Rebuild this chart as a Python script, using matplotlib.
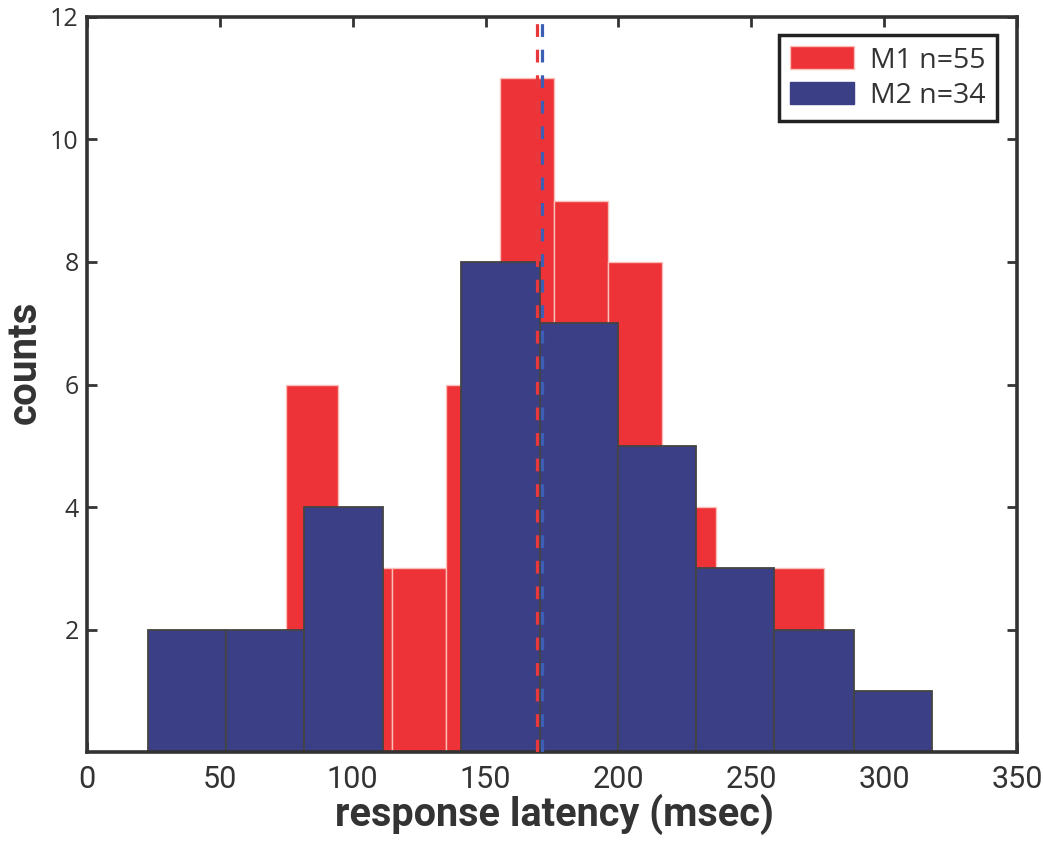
import numpy as np
import matplotlib.pyplot as plt
from matplotlib.patches import Patch

# bin edges (msec) and counts
m1_edges = [74.9, 94.5, 114.8, 135.1, 155.4, 175.8, 196.1, 216.4, 236.7, 257.1, 277.4]
m1_counts = [6, 3, 3, 6, 11, 9, 8, 4, 2, 3]
m2_edges = [22.8, 52.3, 81.7, 111.4, 140.8, 170.5, 199.8, 229.2, 258.6, 288.7, 318.0]
m2_counts = [2, 2, 4, 0, 8, 7, 5, 3, 2, 1]
m1_mean = 169.4
m2_mean = 171.3

red = '#ee3338'
blue = '#3b3f85'
narrow = ['Roboto', 'DejaVu Sans']
plain = ['Open Sans', 'DejaVu Sans']

fig = plt.figure(figsize=(10.43, 8.46), dpi=100)
ax = fig.add_axes([0.0834, 0.111, 0.8916, 0.869])

e1 = np.array(m1_edges)
ax.bar(e1[:-1], m1_counts, width=np.diff(e1), align='edge',
       color=red, edgecolor='#f8c0b8', linewidth=1.0, zorder=1)
e2 = np.array(m2_edges)
c2 = np.array(m2_counts)
keep = c2 > 0
ax.bar(e2[:-1][keep], c2[keep], width=np.diff(e2)[keep], align='edge',
       color=blue, edgecolor='#444444', linewidth=1.3, zorder=2)

ax.axvline(m1_mean, color='#e8383d', lw=2.3, dashes=(4, 4), zorder=3)
ax.axvline(m2_mean, color='#3c5fb5', lw=2.3, dashes=(4, 4), zorder=3)

ax.set_xlim(0, 350)
ax.set_ylim(0, 12)
ax.set_xticks(np.arange(0, 351, 50))
ax.set_yticks([2, 4, 6, 8, 10, 12])
ax.tick_params(direction='in', top=True, right=True, length=7, width=2,
               color='#333333', labelcolor='#333333')
ax.tick_params(axis='x', pad=9)
ax.tick_params(axis='y', pad=6)
for lab in ax.get_xticklabels():
    lab.set_family(narrow)
    lab.set_fontsize(22)
for lab in ax.get_yticklabels():
    lab.set_family(plain)
    lab.set_fontsize(18)

for s in ax.spines.values():
    s.set_linewidth(2.6)
    s.set_color('#333333')

ax.set_xlabel('response latency (msec)', family=narrow, fontsize=28.5,
              fontweight='bold', color='#333333')
ax.xaxis.set_label_coords(0.503, -0.057)
ax.set_ylabel('counts', family=narrow, fontsize=29, fontweight='bold',
              color='#333333')
ax.yaxis.set_label_coords(-0.047, 0.53)

handles = [Patch(facecolor=red, edgecolor='#f8c0b8', label='M1 n=55'),
           Patch(facecolor=blue, edgecolor=blue, label='M2 n=34')]
leg = ax.legend(handles=handles, loc='upper right', fancybox=False,
                prop={'family': plain, 'size': 20.5},
                handlelength=2.25, handleheight=0.85, borderpad=0.4,
                labelspacing=0.25, handletextpad=0.55, borderaxespad=0,
                bbox_to_anchor=(0.9785, 0.9755), framealpha=1)
leg.get_frame().set_edgecolor('#222222')
leg.get_frame().set_linewidth(2.5)
for t in leg.get_texts():
    t.set_color('#333333')

fig.savefig('out.png', dpi=100)
